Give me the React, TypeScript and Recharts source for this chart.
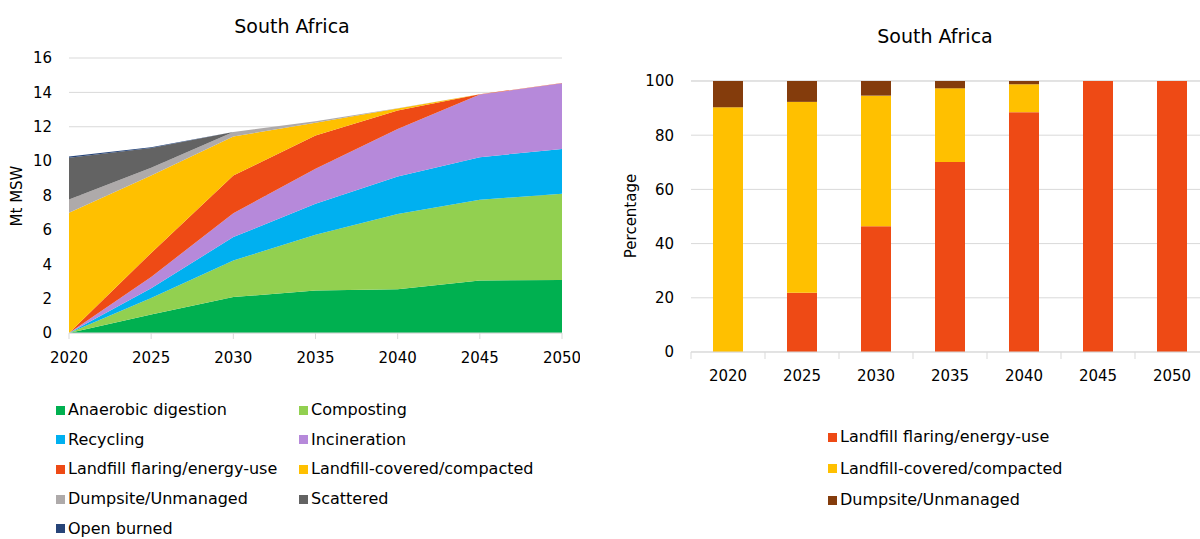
import React from 'react';
import { AreaChart, Area, BarChart, Bar, XAxis, YAxis, CartesianGrid } from 'recharts';

const YEARS = [2020, 2025, 2030, 2035, 2040, 2045, 2050];

// Left chart: Mt MSW by treatment (stacked, bottom to top)
const anaerobic = [0, 1.08, 2.09, 2.48, 2.54, 3.06, 3.08];
const composting = [0, 0.95, 2.13, 3.23, 4.39, 4.69, 5.02];
const recycling = [0, 0.58, 1.36, 1.81, 2.17, 2.48, 2.61];
const incineration = [0, 0.65, 1.39, 2.03, 2.77, 3.64, 3.82];
const flaring = [0, 1.4, 2.19, 1.94, 1.07, 0.02, 0.02];
const covered = [7.0, 4.5, 2.27, 0.75, 0.12, 0, 0];
const dumpsite = [0.77, 0.45, 0.26, 0.08, 0.015, 0, 0];
const scattered = [2.42, 1.15, 0, 0, 0, 0, 0];
const openBurned = [0.08, 0.05, 0, 0, 0, 0, 0];

const LEFT_TICKS = [0, 2, 4, 6, 8, 10, 12, 14, 16];

// Right chart: landfill share, percentage
const flaringPct = [0, 21.9, 46.4, 70.1, 88.5, 100, 100];
const coveredPct = [90.3, 70.4, 48.2, 27.2, 10.3, 0, 0];
const dumpsitePct = [9.7, 7.7, 5.4, 2.7, 1.2, 0, 0];

const RIGHT_TICKS = [0, 20, 40, 60, 80, 100];

const TITLE = 'South Africa';

const LEFT_SERIES = [
  { key: 'ad', name: 'Anaerobic digestion', color: '#00B050', values: anaerobic },
  { key: 'comp', name: 'Composting', color: '#92D050', values: composting },
  { key: 'rec', name: 'Recycling', color: '#00B0F0', values: recycling },
  { key: 'inc', name: 'Incineration', color: '#B689DA', values: incineration },
  { key: 'flare', name: 'Landfill flaring/energy-use', color: '#EE4A15', values: flaring },
  { key: 'cov', name: 'Landfill-covered/compacted', color: '#FFC000', values: covered },
  { key: 'dump', name: 'Dumpsite/Unmanaged', color: '#AEAAAA', values: dumpsite },
  { key: 'scat', name: 'Scattered', color: '#636363', values: scattered },
  { key: 'open', name: 'Open burned', color: '#264478', values: openBurned },
];

const RIGHT_SERIES = [
  { key: 'flare', name: 'Landfill flaring/energy-use', color: '#EE4A15', values: flaringPct },
  { key: 'cov', name: 'Landfill-covered/compacted', color: '#FFC000', values: coveredPct },
  { key: 'dump', name: 'Dumpsite/Unmanaged', color: '#843C0C', values: dumpsitePct },
];

const leftData = YEARS.map((y, i) => {
  const row: any = { year: y };
  LEFT_SERIES.forEach((s) => (row[s.key] = s.values[i]));
  return row;
});

const rightData = YEARS.map((y, i) => {
  const row: any = { year: String(y) };
  RIGHT_SERIES.forEach((s) => (row[s.key] = s.values[i]));
  return row;
});

const FONT = "'DejaVu Sans', Verdana, sans-serif";
const GRID = '#d9d9d9';

const BandTick = (props: any) => {
  const { x, y, payload, index, visibleTicksCount, width } = props;
  const half = payload && payload.offset != null ? payload.offset : width / (visibleTicksCount || 7) / 2;
  const last = index === (visibleTicksCount || 7) - 1;
  return (
    <g>
      <line x1={x - half} y1={y} x2={x - half} y2={y + 7} stroke={GRID} />
      {last && <line x1={x + half} y1={y} x2={x + half} y2={y + 7} stroke={GRID} />}
      <text x={x} y={y + 18} dy="0.71em" textAnchor="middle" fill="#000" fontSize={15} fontFamily={FONT}>
        {payload.value}
      </text>
    </g>
  );
};

const LegendItem = ({ color, name, x, y }: any) => (
  <div
    style={{
      position: 'absolute',
      left: x,
      top: y,
      transform: 'translateY(-50%)',
      display: 'flex',
      alignItems: 'center',
      whiteSpace: 'nowrap',
      fontFamily: FONT,
      fontSize: 16,
      color: '#000',
      lineHeight: '18px',
    }}
  >
    <span style={{ display: 'inline-block', width: 9, height: 9, background: color, marginRight: 3 }} />
    <span>{name}</span>
  </div>
);

export default function App() {
  return (
    <div
      style={{
        position: 'absolute',
        left: 0,
        top: 0,
        width: 1200,
        height: 539,
        overflow: 'hidden',
        background: '#fff',
        fontFamily: FONT,
      }}
    >
      {/* Left chart */}
      <div style={{ position: 'absolute', left: 0, top: 0 }}>
        <AreaChart width={580} height={380} data={leftData} margin={{ top: 58, right: 18, bottom: 17, left: 0 }}>
          <CartesianGrid vertical={false} stroke={GRID} />
          <XAxis
            dataKey="year"
            type="number"
            domain={[2020, 2050]}
            ticks={YEARS}
            interval={0}
            height={30}
            stroke={GRID}
            tickSize={6}
            tickMargin={13}
            tick={{ fill: '#000', fontSize: 15, fontFamily: FONT }}
          />
          <YAxis
            domain={[0, 16]}
            ticks={LEFT_TICKS}
            interval={0}
            width={69}
            axisLine={false}
            tickLine={false}
            tickSize={8}
            tickMargin={9}
            tick={{ fill: '#000', fontSize: 15, fontFamily: FONT }}
          />
          {LEFT_SERIES.map((s) => (
            <Area
              key={s.key}
              type="linear"
              dataKey={s.key}
              name={s.name}
              stackId="1"
              fill={s.color}
              fillOpacity={1}
              stroke="none"
              isAnimationActive={false}
              dot={false}
              activeDot={false}
            />
          ))}
        </AreaChart>
      </div>

      {/* Right chart */}
      <div style={{ position: 'absolute', left: 600, top: 0 }}>
        <BarChart width={620} height={400} data={rightData} margin={{ top: 81, right: 11, bottom: 8, left: 0 }}>
          <CartesianGrid vertical={false} stroke={GRID} />
          <XAxis
            dataKey="year"
            interval={0}
            height={40}
            stroke={GRID}
            tickLine={false}
            tickSize={0}
            tickMargin={0}
            tick={<BandTick />}
          />
          <YAxis
            domain={[0, 100]}
            ticks={RIGHT_TICKS}
            interval={0}
            width={91}
            axisLine={false}
            tickLine={false}
            tickSize={8}
            tickMargin={9}
            tick={{ fill: '#000', fontSize: 15, fontFamily: FONT }}
          />
          {RIGHT_SERIES.map((s) => (
            <Bar key={s.key} dataKey={s.key} name={s.name} stackId="a" fill={s.color} barSize={30} isAnimationActive={false} />
          ))}
        </BarChart>
      </div>

      {/* Titles */}
      <div style={{ position: 'absolute', left: 292, top: 26, transform: 'translate(-50%,-50%)', fontSize: 19, whiteSpace: 'nowrap', color: '#000' }}>
        {TITLE}
      </div>
      <div style={{ position: 'absolute', left: 935, top: 36, transform: 'translate(-50%,-50%)', fontSize: 19, whiteSpace: 'nowrap', color: '#000' }}>
        {TITLE}
      </div>

      {/* Axis titles */}
      <div style={{ position: 'absolute', left: 17, top: 196, transform: 'translate(-50%,-50%) rotate(-90deg)', fontSize: 15, whiteSpace: 'nowrap', color: '#000' }}>
        Mt MSW
      </div>
      <div style={{ position: 'absolute', left: 631, top: 216, transform: 'translate(-50%,-50%) rotate(-90deg)', fontSize: 15, whiteSpace: 'nowrap', color: '#000' }}>
        Percentage
      </div>

      {/* Left legend */}
      {LEFT_SERIES.map((s, i) => (
        <LegendItem key={s.key} color={s.color} name={s.name} x={i % 2 === 0 ? 56 : 299} y={410 + Math.floor(i / 2) * 29.7} />
      ))}

      {/* Right legend */}
      {RIGHT_SERIES.map((s, i) => (
        <LegendItem key={s.key} color={s.color} name={s.name} x={828} y={437 + i * 31.5} />
      ))}
    </div>
  );
}
